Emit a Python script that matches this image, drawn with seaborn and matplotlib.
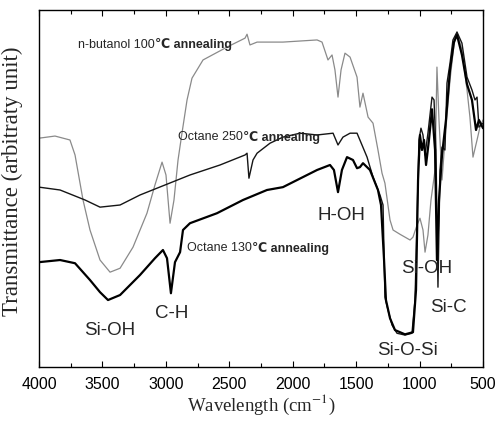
import pandas as pd
import matplotlib
matplotlib.use("Agg")
import matplotlib.pyplot as plt
from matplotlib.ticker import MultipleLocator
import seaborn as sns

sns.set_style("ticks")
plt.rcParams["font.family"] = ["Liberation Sans", "DejaVu Sans"]
plt.rcParams["mathtext.fontset"] = "stix"

# n-butanol 100C annealing (grey trace)
butanol_wn = [4000, 3874, 3756, 3716, 3653, 3598, 3519, 3440, 3361, 3259, 3149, 3086,
              3030, 2999, 2967, 2936, 2904, 2873, 2833, 2794, 2707, 2518, 2376, 2360,
              2337, 2281, 2077, 1808, 1769, 1722, 1690, 1667, 1643, 1619, 1588, 1548,
              1493, 1470, 1446, 1406, 1367, 1328, 1296, 1273, 1233, 1209, 1154, 1075,
              1052, 1020, 997, 973, 957, 934, 910, 878, 863, 847, 823, 800, 760, 729,
              705, 666, 626, 603, 579, 547, 524, 500]
butanol_t = [64.1, 64.7, 63.6, 59.4, 46.8, 38.4, 30.0, 26.6, 27.7, 33.6, 43.1, 51.0,
             57.4, 53.8, 40.3, 46.8, 58.0, 65.5, 74.8, 80.9, 86.0, 89.6, 92.1, 93.2,
             90.2, 91.0, 91.0, 91.6, 91.0, 86.0, 87.4, 83.2, 75.6, 83.2, 87.9, 86.8,
             81.2, 72.8, 76.7, 70.0, 68.3, 60.8, 54.3, 51.5, 41.2, 38.4, 37.2, 35.6,
             36.4, 39.8, 41.7, 38.4, 32.2, 37.0, 46.8, 55.2, 84.0, 69.2, 52.4, 63.6,
             80.4, 90.2, 93.8, 88.8, 77.6, 70.0, 58.8, 63.6, 67.2, 69.2]

# Octane 250C annealing (upper black trace)
oct250_wn = [4000, 3834, 3637, 3519, 3361, 3204, 3007, 2810, 2573, 2376, 2360, 2345,
             2313, 2281, 2179, 2077, 1942, 1808, 1682, 1643, 1604, 1548, 1493, 1454,
             1414, 1367, 1312, 1288, 1273, 1249, 1217, 1178, 1115, 1060, 1036, 1020,
             1005, 989, 973, 957, 934, 902, 886, 871, 855, 839, 823, 800, 784, 760,
             737, 705, 666, 626, 587, 563, 547, 532, 500]
oct250_t = [50.4, 49.6, 46.8, 44.8, 45.4, 48.2, 51.0, 53.8, 56.6, 59.4, 59.9, 52.9,
            58.0, 59.9, 62.7, 64.4, 65.5, 65.0, 65.5, 62.2, 64.4, 65.5, 65.5, 62.2,
            58.8, 53.2, 48.2, 45.4, 19.6, 16.0, 11.8, 9.5, 9.0, 9.5, 18.8, 41.2,
            63.6, 66.9, 65.0, 59.4, 65.5, 75.6, 74.8, 60.8, 22.4, 55.2, 61.6, 60.8,
            79.5, 85.1, 91.6, 93.8, 90.7, 81.2, 77.6, 74.8, 75.6, 67.2, 68.3]

# Octane 130C annealing (lower, thick black trace)
oct130_wn = [4000, 3834, 3716, 3598, 3519, 3456, 3361, 3204, 3086, 3023, 2991, 2960,
             2928, 2888, 2865, 2810, 2597, 2392, 2203, 2077, 1808, 1706, 1675, 1643,
             1612, 1572, 1525, 1493, 1470, 1446, 1391, 1328, 1304, 1280, 1265, 1233,
             1194, 1115, 1052, 1028, 1012, 997, 981, 965, 949, 926, 902, 878, 863,
             847, 823, 792, 760, 729, 705, 666, 626, 587, 555, 532, 500]
oct130_t = [29.4, 30.0, 29.1, 24.4, 21.0, 18.8, 20.2, 25.8, 30.5, 32.8, 30.5, 20.7,
            29.4, 32.2, 38.4, 40.3, 43.1, 46.8, 49.6, 50.4, 55.2, 56.6, 55.2, 49.0,
            55.2, 58.8, 58.0, 55.7, 56.0, 57.1, 55.2, 49.6, 45.4, 30.0, 18.8, 13.7,
            10.4, 9.2, 9.8, 21.6, 52.4, 65.0, 60.8, 63.6, 56.6, 63.6, 72.2, 60.8, 30.0,
            46.8, 59.4, 69.2, 83.2, 91.0, 93.0, 87.4, 79.2, 74.8, 66.4, 69.2, 66.9]

fig = plt.figure(figsize=(5.0, 4.32), dpi=100)
ax = fig.add_axes([0.078, 0.150, 0.888, 0.827])

sns.lineplot(x=butanol_wn, y=butanol_t, sort=False, estimator=None, ax=ax,
             color="#8a8a8a", linewidth=0.9)
sns.lineplot(x=oct250_wn, y=oct250_t, sort=False, estimator=None, ax=ax,
             color="#151515", linewidth=1.0)
sns.lineplot(x=oct130_wn, y=oct130_t, sort=False, estimator=None, ax=ax,
             color="#000000", linewidth=1.6)

ax.set_xlim(4000, 500)
ax.set_ylim(0, 100)
ax.set_yticks([])
ax.xaxis.set_major_locator(MultipleLocator(500))
ax.xaxis.set_minor_locator(MultipleLocator(250))
ax.tick_params(axis="x", which="both", direction="in", top=True, labelsize=11.5,
               width=0.8, colors="black", pad=7)
ax.tick_params(axis="x", which="major", length=4)
ax.tick_params(axis="x", which="minor", length=3)
for s in ax.spines.values():
    s.set_visible(True)
    s.set_color("black")
    s.set_linewidth(1.0)

ax.set_xlabel(r"Wavelength (cm$^{-1}$)", family="Liberation Serif", fontsize=13.5,
              labelpad=1)
ax.set_ylabel("Transmittance (arbitraty unit)", family="Liberation Serif",
              fontsize=16.5, labelpad=2)
ax.yaxis.set_label_coords(-0.036, 0.52)


def anneal_label(x, y, head):
    t = ax.text(x, y, head, fontsize=9, va="center", ha="left")
    ax.annotate("\u2103 annealing", xy=(1, 0.5), xycoords=t, va="center",
                ha="left", fontsize=9, fontweight="bold")


anneal_label(3693, 90.2, "n-butanol 100")
anneal_label(2904, 64.4, "Octane 250")
anneal_label(2830, 33.3, "Octane 130")

peak_labels = [("H-OH", 1612, 42.6), ("Si-OH", 3440, 10.4), ("C-H", 2951, 15.1),
               ("Si-OH", 941, 27.7), ("Si-C", 776, 16.8), ("Si-O-Si", 1099, 4.8)]
for txt, x, y in peak_labels:
    ax.text(x, y, txt, fontsize=13.5, ha="center", va="center")

plt.savefig("out.png", dpi=100)
plt.close(fig)
